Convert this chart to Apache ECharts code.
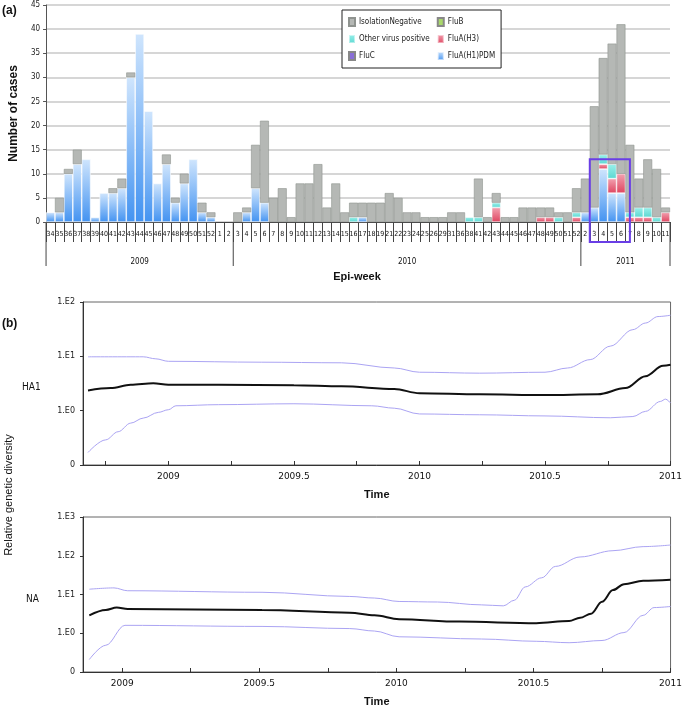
<!DOCTYPE html>
<html><head><meta charset="utf-8">
<script src="https://cdn.jsdelivr.net/npm/echarts@6/dist/echarts.min.js"></script>
<style>html,body{margin:0;padding:0;background:#fff}#c{width:685px;height:708px}</style>
</head><body><div id="c"></div>
<script>
// ---------- (a) Epi-week case counts ----------
const weeks = ["34","35","36","37","38","39","40","41","42","43","44","45","46","47","48","49","50","51","52","1","2",
  "3","4","5","6","7","8","9","10","11","12","13","14","15","16","17","18","19","21","22","23","24","25","26","29","31","36","38","41","42","43","44","45","46","47","48","49","50","51","52",
  "2","3","4","5","6","7","8","9","10","11"];
const yearLabels = ["2009","2010","2011"];
const yearGroupSizes = [21, 39, 10];

const fluH1pdm = [2,2,10,12,13,1,6,6,7,30,39,23,8,12,4,8,13,2,1,0,0,
  0,2,7,4,0,0,0,0,0,0,0,0,0,0,1,0,0, 0,0,0,0,0,0, 0,0,0,0, 0,0,0,0,0,0,0,0,0,0,0,0,
  2,3,11,6,6,0,0,0,0,0];
const fluH3 = [0,0,0,0,0,0,0,0,0,0,0,0,0,0,0,0,0,0,0,0,0,
  0,0,0,0,0,0,0,0,0,0,0,0,0,0,0,0,0, 0,0,0,0,0,0, 0,0,0,0, 0,0,3,0,0,0,0,1,1,0,0,1,
  0,0,1,3,4,1,1,1,0,2];
const fluB = [0,0,0,0,0,0,0,0,0,0,0,0,0,0,0,0,0,0,0,0,0,
  0,0,0,0,0,0,0,0,0,0,0,0,0,0,0,0,0, 0,0,0,0,0,0, 0,0,0,0, 0,0,0,0,0,0,0,0,0,0,0,0,
  0,0,0,0,0,0,0,0,0,0];
const fluC = [0,0,0,0,0,0,0,0,0,0,0,0,0,0,0,0,0,0,0,0,0,
  0,0,0,0,0,0,0,0,0,0,0,0,0,0,0,0,0, 0,0,0,0,0,0, 0,0,0,0, 0,0,0,0,0,0,0,0,0,0,0,0,
  0,0,0,0,0,0,0,0,0,0];
const otherVirus = [0,0,0,0,0,0,0,0,0,0,0,0,0,0,0,0,0,0,0,0,0,
  0,0,0,0,0,0,0,0,0,0,0,0,0,1,0,0,0, 0,0,0,0,0,0, 0,0,0,1, 1,0,1,0,0,0,0,0,0,1,0,1,
  0,0,2,3,0,1,2,2,1,0];
const isolationNeg = [0,3,1,3,0,0,0,1,2,1,0,0,0,2,1,2,0,2,1,0,0,
  2,1,9,17,5,7,1,8,8,12,3,8,2,3,3,4,4, 6,5,2,2,1,1, 1,2,2,0, 8,1,2,1,1,3,3,2,2,1,2,5,
  7,21,20,25,31,14,6,10,10,1];
const highlightFrom = 61;   // 2011 week 3
const highlightTo = 65;     // 2011 week 7 (centre)
const highlightTop = 13;

// ---------- (b) relative genetic diversity ----------
const ha1Mean = [[2008.68,2.36],[2008.77,2.6],[2008.85,3.0],[2008.94,3.2],[2009.0,3.0],[2009.2,3.0],[2009.5,2.95],[2009.69,2.8],[2009.9,2.5],[2010.0,2.1],[2010.24,2.0],[2010.5,1.94],[2010.71,2.0],[2010.82,2.6],[2010.9,4.3],[2010.97,6.7],[2011.0,7.0]];
const ha1Upper = [[2008.68,9.8],[2008.9,9.8],[2008.95,9.0],[2009.0,8.1],[2009.37,7.8],[2009.69,7.6],[2009.9,6.1],[2010.0,5.1],[2010.24,4.9],[2010.5,5.1],[2010.59,6.1],[2010.68,8.7],[2010.76,15.4],[2010.85,31],[2010.9,41],[2010.95,54],[2011.0,57]];
const ha1Lower = [[2008.68,0.17],[2008.75,0.29],[2008.8,0.41],[2008.85,0.59],[2008.9,0.73],[2008.96,0.93],[2009.0,1.04],[2009.03,1.23],[2009.2,1.29],[2009.5,1.34],[2009.81,1.23],[2009.9,1.11],[2010.0,0.87],[2010.24,0.84],[2010.5,0.80],[2010.76,0.74],[2010.85,0.78],[2010.9,0.97],[2010.96,1.48],[2010.98,1.63],[2011.0,1.38]];
const naMean = [[2008.88,2.9],[2008.94,4.0],[2008.98,4.6],[2009.02,4.2],[2009.51,4.0],[2009.83,3.4],[2009.92,2.9],[2010.01,2.3],[2010.23,2.0],[2010.51,1.82],[2010.63,2.07],[2010.67,2.5],[2010.71,3.2],[2010.75,6.5],[2010.79,13],[2010.83,18.5],[2010.9,22.5],[2011.0,24]];
const naUpper = [[2008.88,13.7],[2008.97,14.8],[2009.02,12.5],[2009.51,11.4],[2009.83,8.9],[2009.92,8.1],[2010.01,6.6],[2010.15,6.4],[2010.31,5.4],[2010.39,5.1],[2010.43,7.1],[2010.47,15.7],[2010.53,27],[2010.58,53],[2010.67,93],[2010.79,135],[2010.9,172],[2011.0,189]];
const naLower = [[2008.88,0.21],[2008.94,0.49],[2009.01,1.6],[2009.51,1.5],[2009.83,1.32],[2009.92,1.14],[2010.01,0.81],[2010.31,0.71],[2010.51,0.62],[2010.63,0.57],[2010.75,0.65],[2010.83,1.04],[2010.9,2.9],[2010.94,4.6],[2011.0,4.9]];
const timeLabels = [2009, 2009.5, 2010, 2010.5, 2011];
const timeTicks = [2008.75, 2009, 2009.25, 2009.5, 2009.75, 2010, 2010.25, 2010.5, 2010.75, 2011];
const ha1Ticks = [0.1, 1, 10, 100];
const naTicks = [0.1, 1, 10, 100, 1000];

const NARROW = "'Liberation Sans Narrow','DejaVu Sans Condensed',sans-serif";
const nz = a => a.map(v => v === 0 ? null : v);
const grad = (c0, c1) => ({type:'linear',x:0,y:0,x2:0,y2:1,colorStops:[{offset:0,color:c0},{offset:1,color:c1}]});

const chart = echarts.init(document.getElementById('c'), null, {renderer:'canvas'});

function barSeries(name, data, color, border) {
  return {name, type:'bar', stack:'cases', xAxisIndex:0, yAxisIndex:0, data: nz(data),
    barCategoryGap:0, barGap:0, itemStyle:{color, borderColor:border, borderWidth:0.6}};
}
function lineSeries(name, data, idx, color, width) {
  return {name, type:'line', xAxisIndex:idx, yAxisIndex:idx, data, showSymbol:false, smooth:0.35,
    smoothMonotone:'x', lineStyle:{color, width}, itemStyle:{color}, silent:true, z:3};
}
const logFmt = v => v < 0.5 ? '0' : '1.E' + Math.round(Math.log10(v));
function timeX(idx, min) {
  return {type:'value', gridIndex:idx, min, max:2011,
    axisLine:{show:true, lineStyle:{color:'#333', width:1}},
    axisTick:{show:true, inside:true, length:4, customValues:timeTicks, lineStyle:{color:'#333'}},
    axisLabel:{customValues:timeLabels, formatter:v => String(v), color:'#111', fontSize:9, fontFamily:'DejaVu Sans', margin:7},
    splitLine:{show:false},
    name:'Time', nameLocation:'middle', nameGap:24, nameTextStyle:{fontWeight:'bold', fontSize:11, color:'#111'}};
}
function logY(idx, max, ticks) {
  return {type:'log', logBase:10, gridIndex:idx, min:0.1, max,
    axisLine:{show:true, lineStyle:{color:'#333'}},
    axisTick:{show:true, length:3, customValues:ticks, lineStyle:{color:'#333'}},
    axisLabel:{customValues:ticks, formatter:logFmt, color:'#222', fontSize:8, fontFamily:'DejaVu Sans', margin:8},
    splitLine:{show:false}};
}

chart.setOption({
  animation:false,
  backgroundColor:'#fff',
  grid:[
    {left:44, right:15, top:5, height:217},
    {left:83, right:14, top:302, height:163, show:true, borderColor:'#666', borderWidth:1},
    {left:83, right:14, top:517, height:163, show:true, borderColor:'#666', borderWidth:1}
  ],
  legend:{
    data:['IsolationNegative','Other virus positive','FluC','FluB','FluA(H3)','FluA(H1)PDM'],
    orient:'vertical', left:342, top:10, height:46, itemGap:7, padding:[7,6,7,6],
    borderColor:'#222', borderWidth:1, backgroundColor:'#fff',
    icon:'rect', itemWidth:6, itemHeight:8,
    textStyle:{fontSize:8, fontFamily:NARROW, color:'#222', padding:[0,0,0,-1]}
  },
  xAxis:[
    {type:'category', gridIndex:0, data:weeks,
      axisLine:{show:true, lineStyle:{color:'#444', width:1}},
      axisTick:{show:true, interval:0, length:20, lineStyle:{color:'#444', width:1}},
      axisLabel:{interval:0, fontSize:7, fontFamily:NARROW, color:'#111', margin:9}},
    timeX(1, 2008.66),
    timeX(2, 2008.857)
  ],
  yAxis:[
    {type:'value', gridIndex:0, min:0, max:45, interval:5,
      axisLine:{show:true, lineStyle:{color:'#555'}},
      axisTick:{show:true, length:3, lineStyle:{color:'#555'}},
      axisLabel:{fontSize:8, fontFamily:NARROW, color:'#222', margin:6},
      splitLine:{lineStyle:{color:'#d6d6d6', width:2}},
      name:'Number of cases', nameLocation:'middle', nameGap:26,
      nameTextStyle:{fontWeight:'bold', fontSize:12, color:'#111', fontFamily:'Liberation Sans'}},
    logY(1, 100, ha1Ticks),
    logY(2, 1000, naTicks)
  ],
  series:[
    barSeries('FluA(H1)PDM', fluH1pdm, grad('#cfe5fd','#4393f1'), 'rgba(255,255,255,0.6)'),
    barSeries('FluA(H3)', fluH3, grad('#f2a1b0','#df4560'), 'rgba(255,255,255,0.5)'),
    barSeries('FluB', fluB, '#a9d86a', '#888'),
    barSeries('FluC', fluC, '#8a6fd8', '#888'),
    barSeries('Other virus positive', otherVirus, grad('#9af0ea','#5cd8d2'), 'rgba(255,255,255,0.5)'),
    barSeries('IsolationNegative', isolationNeg, '#b5b8b5', '#8f938f'),
    lineSeries('HA1 upper', ha1Upper, 1, '#aba4f3', 1),
    lineSeries('HA1 lower', ha1Lower, 1, '#aba4f3', 1),
    lineSeries('HA1 mean', ha1Mean, 1, '#111', 2),
    lineSeries('NA upper', naUpper, 2, '#aba4f3', 1),
    lineSeries('NA lower', naLower, 2, '#aba4f3', 1),
    lineSeries('NA mean', naMean, 2, '#111', 2)
  ]
});

// ---- annotations positioned through the axes ----
const c0 = chart.convertToPixel({xAxisIndex:0}, 0);
const c1 = chart.convertToPixel({xAxisIndex:0}, 1);
const band = c1 - c0;
const boundary = i => c0 + band * i - band / 2;
const axisY = chart.convertToPixel({yAxisIndex:0}, 0);
const g = [];
let start = 0;
yearGroupSizes.forEach((n, k) => {
  const x0 = boundary(start), x1 = boundary(start + n);
  g.push({type:'line', shape:{x1:x0, y1:axisY, x2:x0, y2:axisY + 44}, style:{stroke:'#444', lineWidth:1}});
  g.push({type:'text', x:(x0 + x1) / 2, y:axisY + 40, style:{text:yearLabels[k], fontSize:8, fontFamily:NARROW, fill:'#111', align:'center', verticalAlign:'middle'}});
  start += n;
});
g.push({type:'line', shape:{x1:boundary(start), y1:axisY, x2:boundary(start), y2:axisY + 44}, style:{stroke:'#444', lineWidth:1}});
const bx0 = boundary(highlightFrom), bx1 = c0 + band * highlightTo;
const by0 = chart.convertToPixel({yAxisIndex:0}, highlightTop);
g.push({type:'rect', shape:{x:bx0, y:by0, width:bx1 - bx0, height:axisY + 20 - by0}, style:{fill:null, stroke:'#6a3ee6', lineWidth:2}, z:100});
g.push({type:'text', x:2, y:5, style:{text:'(a)', fontSize:12, fontWeight:'bold', fill:'#111', fontFamily:'Liberation Sans'}});
g.push({type:'text', x:357, y:277, style:{text:'Epi-week', fontSize:11, fontWeight:'bold', fill:'#111', align:'center', verticalAlign:'middle', fontFamily:'Liberation Sans'}});
g.push({type:'text', x:2, y:318, style:{text:'(b)', fontSize:12, fontWeight:'bold', fill:'#111', fontFamily:'Liberation Sans'}});
g.push({type:'text', x:9, y:495, rotation:Math.PI/2, style:{text:'Relative genetic diversity', fontSize:11, fill:'#111', align:'center', verticalAlign:'middle', fontFamily:'Liberation Sans'}});
g.push({type:'text', x:22, y:387, style:{text:'HA1', fontSize:10, fill:'#111', verticalAlign:'middle', fontFamily:NARROW}});
g.push({type:'text', x:26, y:599, style:{text:'NA', fontSize:10, fill:'#111', verticalAlign:'middle', fontFamily:NARROW}});
chart.setOption({graphic:g});
</script>
</body></html>
